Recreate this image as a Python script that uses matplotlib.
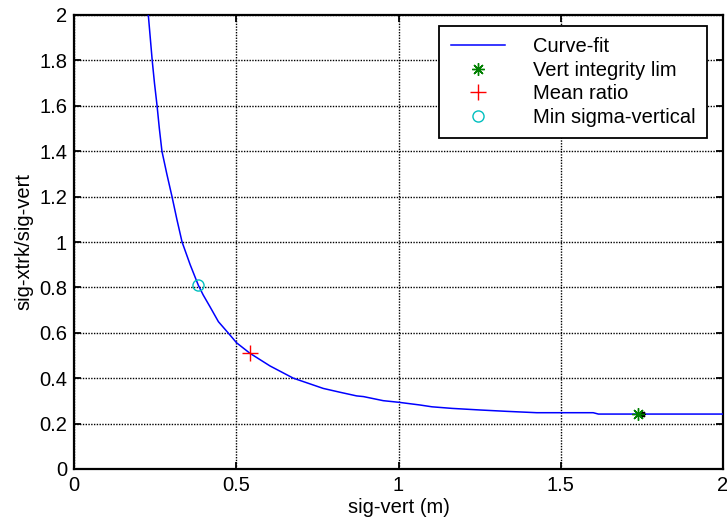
import matplotlib
matplotlib.use("Agg")
import matplotlib.pyplot as plt

plt.rcParams['font.family'] = ['Liberation Sans', 'DejaVu Sans']

curve_x = [0.229, 0.235, 0.241, 0.248, 0.256, 0.263, 0.271, 0.286, 0.302, 0.317, 0.333,
           0.358, 0.383, 0.398, 0.419, 0.445, 0.476, 0.501, 0.542, 0.604, 0.676, 0.717,
           0.768, 0.820, 0.871, 0.892, 0.953, 1.0, 1.066, 1.103, 1.165, 1.251, 1.333,
           1.426, 1.600, 1.616, 2.0]
curve_y = [2.0, 1.9, 1.8, 1.7, 1.6, 1.5, 1.4, 1.3, 1.2, 1.1, 1.0,
           0.9, 0.81, 0.767, 0.715, 0.649, 0.598, 0.556, 0.51, 0.454, 0.4, 0.38,
           0.355, 0.338, 0.322, 0.319, 0.301, 0.294, 0.282, 0.274, 0.267, 0.26, 0.254,
           0.248, 0.248, 0.242, 0.242]
vert_lim = (1.737, 0.242)
vert_lim_data = (1.749, 0.243)
mean_ratio = (0.542, 0.51)
min_sigma = (0.383, 0.81)

xticks = [0, 0.5, 1, 1.5, 2]
xticklabels = ['0', '0.5', '1', '1.5', '2']
yticks = [0, 0.2, 0.4, 0.6, 0.8, 1, 1.2, 1.4, 1.6, 1.8, 2]
yticklabels = ['0', '0.2', '0.4', '0.6', '0.8', '1', '1.2', '1.4', '1.6', '1.8', '2']

FS = 14.5

fig = plt.figure(figsize=(7.27, 5.29), dpi=100)
ax = fig.add_axes([74/727, 1-469/529, (723-74)/727, (469-15)/529])

ax.plot(curve_x, curve_y, color=(0, 0, 1), lw=1.1, label='Curve-fit', zorder=3)
ax.plot([vert_lim_data[0]], [vert_lim_data[1]], linestyle='none', marker=(8, 2, 0), ms=5, mew=0.9,
        color='black', zorder=4)
ax.plot([vert_lim[0]], [vert_lim[1]], linestyle='none', marker=(8, 2, 0), ms=9, mew=1.0,
        color=(0, 0.5, 0), label='Vert integrity lim', zorder=5)
ax.plot([mean_ratio[0]], [mean_ratio[1]], linestyle='none', marker='+', ms=11, mew=1.0,
        color=(1, 0, 0), label='Mean ratio', zorder=4)
ax.plot([min_sigma[0]], [min_sigma[1]], linestyle='none', marker='o', ms=8, mew=1.0,
        mfc='none', color=(0, 0.75, 0.75), label='Min sigma-vertical', zorder=4)

ax.set_xlim(0, 2)
ax.set_ylim(0, 2)
ax.set_xticks(xticks)
ax.set_xticklabels(xticklabels)
ax.set_yticks(yticks)
ax.set_yticklabels(yticklabels)
ax.grid(True, color='black', linestyle=(0, (1, 1)), linewidth=1.0)
ax.set_axisbelow(True)
ax.tick_params(direction='in', length=5, width=1.3, top=True, right=True, labelsize=FS, pad=5)
for s in ax.spines.values():
    s.set_linewidth(1.6)

ax.set_xlabel('sig-vert (m)', fontsize=FS, labelpad=2)
ax.set_ylabel('sig-xtrk/sig-vert', fontsize=FS, labelpad=4)

leg = ax.legend(loc='upper right', bbox_to_anchor=(0.975, 0.975), borderaxespad=0,
                fontsize=FS, handlelength=2.7, handletextpad=1.4, labelspacing=0.22,
                borderpad=0.55, fancybox=False, framealpha=1, edgecolor='black')
leg.get_frame().set_linewidth(1.3)

fig.savefig('out.png', dpi=100)
